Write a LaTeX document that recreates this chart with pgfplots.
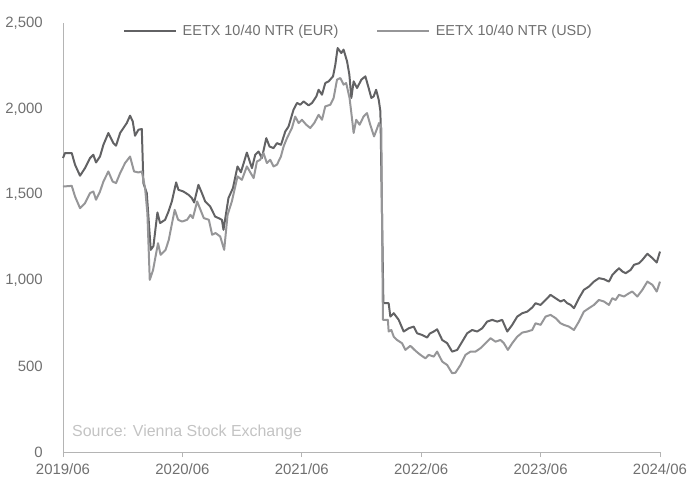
\documentclass[border=0pt]{standalone}
\usepackage{fontspec}
\setmainfont{Liberation Sans}
\usepackage{pgfplots}
\pgfplotsset{compat=1.18}
\definecolor{eurc}{RGB}{98,98,100}
\definecolor{usdc}{RGB}{150,150,152}
\definecolor{axc}{RGB}{180,180,180}
\definecolor{txc}{RGB}{112,112,112}
\definecolor{srcc}{RGB}{195,195,195}
\begin{document}
\begin{tikzpicture}
\begin{axis}[
  at={(0,0)}, anchor=south west,
  scale only axis, width=597bp, height=429bp,
  xmin=0, xmax=60, ymin=0, ymax=2500,
  axis x line=bottom, axis y line=left,
  axis line style={-, draw=axc, line width=0.8pt},
  xtick={0,12,24,36,48,60},
  xticklabels={2019/06,2020/06,2021/06,2022/06,2023/06,2024/06},
  ytick={0,500,1000,1500,2000,2500},
  tick align=outside, major tick length=5bp,
  x tick style={draw=axc, line width=0.8pt},
  y tick style={draw=none},
  /pgf/number format/assume math mode=true,
  /pgf/number format/1000 sep={,},
  tick label style={font=\fontsize{15}{17}\selectfont, text=txc, inner sep=0pt},
  yticklabel style={anchor=east, xshift=-15bp},
  xticklabel style={anchor=north, yshift=-6bp},
  legend columns=2,
  legend style={draw=none, fill=none, at={(0.493,0.981)}, anchor=center,
    font=\fontsize{14.5}{17}\selectfont, text=txc,
    nodes={inner sep=0pt},
    /tikz/every odd column/.append style={column sep=5.7bp},
    /tikz/every even column/.append style={column sep=37.7bp}},
  legend image code/.code={\draw[#1] (0bp,0bp) -- (52bp,0bp);},
  clip=false,
]
\addplot[eurc, line width=2pt, line join=round] coordinates {
(0,1713)(0.2,1742)(0.88,1742)(1.21,1674)(1.71,1610)(2.21,1654)(2.72,1713)(3.05,1732)(3.32,1687)(3.72,1722)
(4.06,1790)(4.56,1859)(5.06,1800)(5.33,1785)(5.74,1859)(6.41,1917)(6.74,1960)(7.01,1926)(7.24,1843)(7.58,1878)
(7.92,1882)(8.08,1567)(8.42,1509)(8.82,1178)(9.09,1200)(9.49,1396)(9.76,1334)(10.26,1353)(10.6,1401)(10.94,1460)
(11.37,1571)(11.6,1528)(12.1,1518)(12.61,1499)(12.95,1480)(13.18,1454)(13.61,1557)(13.96,1509)(14.29,1460)(14.79,1431)
(15.29,1372)(15.63,1363)(15.97,1353)(16.13,1295)(16.63,1480)(17.08,1538)(17.54,1664)(17.88,1630)(18.48,1745)(18.99,1654)
(19.32,1732)(19.65,1751)(19.99,1713)(20.43,1829)(20.76,1780)(21.16,1771)(21.5,1800)(21.91,1790)(22.34,1868)(22.67,1897)
(23.17,1995)(23.52,2034)(23.85,2024)(24.18,2043)(24.68,2020)(25.03,2034)(25.46,2072)(25.69,2111)(26.03,2082)(26.36,2150)
(26.7,2160)(27.14,2189)(27.37,2257)(27.6,2354)(27.97,2325)(28.2,2345)(28.55,2276)(28.78,2199)(28.98,2063)(29.21,2160)
(29.55,2121)(29.99,2170)(30.39,2189)(30.72,2121)(30.99,2063)(31.22,2072)(31.47,2111)(31.73,2053)(31.9,1985)(32.2,867)
(32.73,867)(32.9,789)(33.24,809)(33.74,770)(34.24,702)(34.75,721)(35.25,731)(35.59,692)(36.09,682)(36.6,667)
(36.86,690)(37.26,702)(37.6,715)(38.11,653)(38.61,634)(39.11,585)(39.62,595)(40.12,643)(40.62,692)(41.12,711)
(41.63,702)(42.13,721)(42.63,760)(43.14,770)(43.64,760)(44.14,770)(44.65,702)(45.15,741)(45.65,789)(46.16,809)
(46.66,818)(47.16,842)(47.49,867)(48.0,857)(48.5,886)(49.0,916)(49.51,896)(50.01,877)(50.34,886)(50.68,867)
(51.02,857)(51.35,838)(51.85,896)(52.35,945)(52.86,964)(53.36,993)(53.86,1013)(54.37,1007)(54.87,993)(55.21,1032)
(55.54,1052)(55.88,1071)(56.22,1052)(56.55,1042)(57.05,1061)(57.39,1091)(57.89,1100)(58.23,1120)(58.73,1155)(59.24,1130)
(59.67,1104)(60,1168)
};
\addlegendentry{EETX 10/40 NTR (EUR)}
\addplot[usdc, line width=2pt, line join=round] coordinates {
(0,1547)(0.88,1551)(1.21,1489)(1.71,1421)(2.21,1450)(2.72,1509)(3.05,1518)(3.32,1470)(3.72,1518)(4.06,1576)
(4.56,1635)(4.99,1576)(5.33,1567)(5.74,1625)(6.24,1684)(6.74,1722)(7.14,1635)(7.58,1629)(7.92,1635)(8.25,1538)
(8.48,1392)(8.72,1003)(9.05,1060)(9.55,1217)(9.81,1149)(10.31,1178)(10.63,1236)(10.96,1334)(11.23,1411)(11.57,1353)
(11.97,1343)(12.47,1353)(12.81,1382)(13.05,1363)(13.48,1460)(13.82,1411)(14.15,1363)(14.66,1353)(14.99,1266)(15.33,1276)
(15.8,1256)(16.2,1178)(16.54,1382)(16.97,1460)(17.54,1606)(17.98,1586)(18.48,1664)(18.82,1630)(19.16,1596)(19.49,1693)
(19.82,1703)(20.15,1742)(20.49,1684)(20.83,1703)(21.16,1664)(21.5,1674)(21.9,1722)(22.17,1780)(22.51,1829)(23.01,1888)
(23.34,1955)(23.68,1917)(24.01,1936)(24.45,1907)(24.85,1888)(25.25,1917)(25.69,1965)(26.03,1936)(26.36,2014)(26.87,2024)
(27.2,2063)(27.54,2170)(27.87,2179)(28.2,2141)(28.46,2150)(28.8,2063)(29.04,1946)(29.21,1859)(29.47,1936)(29.81,1907)
(30.21,1955)(30.55,1975)(30.88,1907)(31.26,1839)(31.52,1878)(31.76,1917)(31.99,1888)(32.15,770)(32.65,770)(32.73,702)
(33.0,711)(33.24,672)(33.57,653)(34.07,634)(34.41,595)(34.91,619)(35.42,590)(35.92,566)(36.42,546)(36.76,566)
(37.26,556)(37.6,585)(38.11,527)(38.61,507)(39.11,459)(39.44,462)(39.95,507)(40.45,566)(40.95,585)(41.46,585)
(41.96,605)(42.46,634)(42.96,663)(43.47,643)(43.97,653)(44.31,634)(44.71,595)(45.15,634)(45.65,672)(46.16,696)
(46.66,702)(47.16,711)(47.49,750)(48.0,741)(48.5,789)(49.0,799)(49.51,780)(50.01,750)(50.34,741)(50.84,731)
(51.35,711)(51.85,760)(52.35,818)(52.86,838)(53.36,857)(53.86,886)(54.37,877)(54.87,857)(55.21,896)(55.54,886)
(55.88,916)(56.38,906)(56.88,925)(57.22,935)(57.72,906)(58.23,945)(58.73,993)(59.24,974)(59.67,935)(60,993)
};
\addlegendentry{EETX 10/40 NTR (USD)}
\node[anchor=west, inner sep=0pt, text=srcc, font=\fontsize{16}{18}\selectfont] at (rel axis cs:0.015,0.0466) {Source: Vienna Stock Exchange};
\end{axis}
\pgfresetboundingbox
\path[use as bounding box] (-63bp,-26bp) rectangle (626bp,452bp);
\end{tikzpicture}
\end{document}
